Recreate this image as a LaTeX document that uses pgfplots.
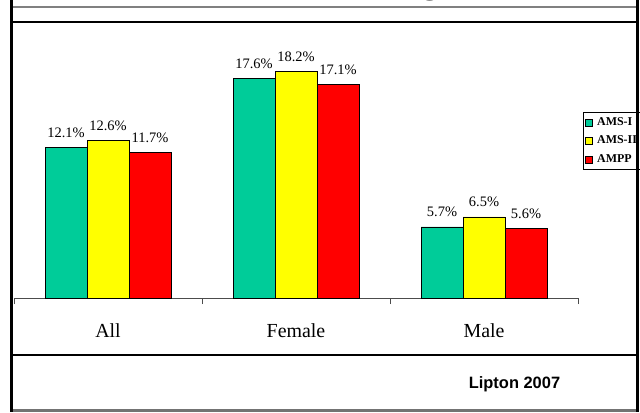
\documentclass[border=0pt]{standalone}
\usepackage{pgfplots}
\pgfplotsset{compat=1.18}
\usepackage{fontspec}
\setmainfont{Liberation Serif}
\newfontfamily\arialfont{Liberation Sans}
\definecolor{cGreen}{RGB}{0,204,153}
\definecolor{cYellow}{RGB}{255,255,0}
\definecolor{cRed}{RGB}{255,0,0}
\begin{document}
\begin{tikzpicture}[x=1bp,y=1bp]
\clip (0,0) rectangle (640,412);
\fill[white] (0,0) rectangle (640,412);
% partly visible title
\node[anchor=base west, inner sep=0, font=\arialfont\bfseries\fontsize{40}{44}\selectfont] at (374,419) {Migraine};
\begin{axis}[
  at={(14bp,114bp)}, anchor=south west,
  scale only axis, width=564bp, height=249.4bp,
  xmin=-0.5, xmax=2.5, ymin=0, ymax=20,
  ybar=0pt, bar width=42bp,
  hide y axis,
  axis x line*=bottom,
  x axis line style={black!70, line width=1bp},
  xtick={-0.5,0.5,1.5,2.5},
  x tick label as interval,
  xticklabels={All,Female,Male},
  tick align=outside,
  major tick length=6bp,
  x tick style={black!70, line width=1bp},
  xticklabel style={font=\fontsize{20}{22}\selectfont, text height=14bp, text depth=0bp, anchor=base, yshift=-33bp},
  /pgf/number format/assume math mode=true,
  nodes near coords={\pgfmathprintnumber[fixed,precision=1,fixed zerofill]{\pgfplotspointmeta}\%},
  every node near coord/.append style={font=\fontsize{14.5}{16}\selectfont, anchor=base, inner sep=0pt, yshift=10bp},
  legend style={at={(axis description cs:1.0089,0.7458)}, anchor=north west,
    draw=black, line width=1bp, fill=white,
    font=\bfseries\fontsize{12}{13}\selectfont,
    inner xsep=1.5bp, inner ysep=5bp,
    nodes={inner xsep=2bp, inner ysep=0bp, text height=8bp, text depth=2bp},
    row sep=8.5bp,
    /tikz/every odd column/.append style={column sep=2.5bp}},
  legend cell align=left,
  legend image code/.code={\draw[#1, draw=black, line width=0.6bp] (0bp,-3.5bp) rectangle (7bp,3.5bp);},
]
\addplot[fill=cGreen, draw=black, line width=0.8bp] coordinates {(0,12.1) (1,17.6) (2,5.7)};
\addplot[fill=cYellow, draw=black, line width=0.8bp] coordinates {(0,12.6) (1,18.2) (2,6.5)};
\addplot[fill=cRed, draw=black, line width=0.8bp] coordinates {(0,11.7) (1,17.1) (2,5.6)};
\legend{AMS-I,AMS-II,AMPP}
\end{axis}
% frame
\draw[black!50, line width=2bp] (10,405) -- (638,405);
\draw[black, line width=1.2bp] (11,390) -- (637,390);
\draw[black, line width=1.2bp] (11,57) -- (637,57);
\draw[black!55, line width=3bp] (10,2) -- (638,2);
\draw[black, line width=3bp] (11,412) -- (11,0.5);
\draw[black, line width=3bp] (637.5,412) -- (637.5,0.5);
\node[font=\arialfont\bfseries\fontsize{16.5}{18}\selectfont, anchor=base, inner sep=0] at (514.5,24) {Lipton 2007};
\end{tikzpicture}
\end{document}
